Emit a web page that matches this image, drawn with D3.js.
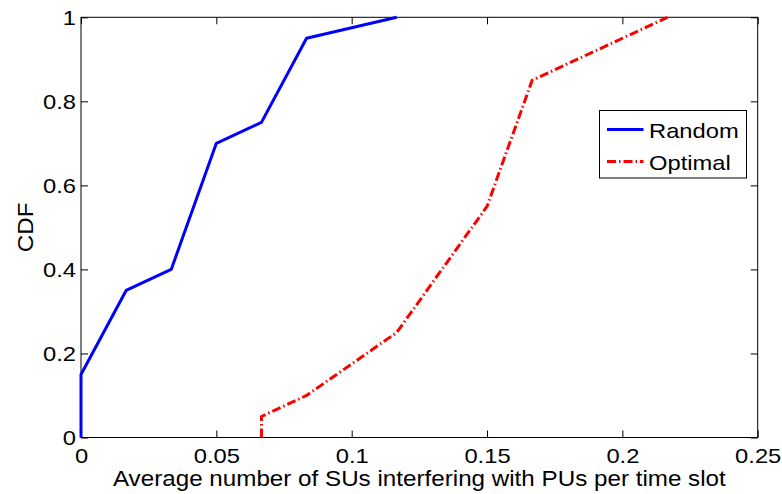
<!DOCTYPE html>
<html>
<head>
<meta charset="utf-8">
<script src="https://cdn.jsdelivr.net/npm/d3@7"></script>
<style>
  html, body { margin: 0; padding: 0; background: #fff; }
  svg { display: block; font-family: "Liberation Sans", Arial, sans-serif; }
</style>
</head>
<body>
<svg id="chart" width="782" height="494"></svg>
<script>
// Empirical CDF of the average number of interfering SUs per time slot
const randomX   = [0, 0, 1/60, 2/60, 3/60, 4/60, 5/60, 7/60];
const randomY   = [0, 0.15, 0.35, 0.40, 0.70, 0.75, 0.95, 1.00];
const optimalX  = [4/60, 4/60, 5/60, 7/60, 9/60, 10/60, 13/60];
const optimalY  = [0, 0.05, 0.10, 0.25, 0.55, 0.85, 1.00];
const xTicks = [0, 0.05, 0.1, 0.15, 0.2, 0.25];
const yTicks = [0, 0.2, 0.4, 0.6, 0.8, 1];
const seriesNames = ["Random", "Optimal"];

const svg = d3.select("#chart");
const margin = { left: 81, top: 17.3, right: 782 - 757.7, bottom: 494 - 437.5 };
const W = 782 - margin.left - margin.right;
const H = 494 - margin.top - margin.bottom;

const x = d3.scaleLinear().domain([0, 0.25]).range([0, W]);
const y = d3.scaleLinear().domain([0, 1]).range([H, 0]);

const g = svg.append("g").attr("transform", `translate(${margin.left},${margin.top})`);

const fmt = d => d === 0 ? "0" : d3.format("~g")(d);
const tickLen = 7;
const fontSize = 21;
const widen = 1.13;   // glyphs are drawn slightly wider than the font's natural width

// stretch a text selection horizontally
function stretch(sel, factor = widen) {
  sel.each(function () {
    const n = this.getComputedTextLength();
    if (n > 0) d3.select(this).attr("textLength", n * factor).attr("lengthAdjust", "spacingAndGlyphs");
  });
}

function styleAxis(sel, showLabels) {
  sel.selectAll(".domain").remove();
  sel.selectAll(".tick line").attr("stroke", "#000").attr("stroke-width", 1);
  const t = sel.selectAll(".tick text")
    .attr("fill", "#000")
    .style("font-size", fontSize + "px");
  if (showLabels) t.call(stretch); else t.remove();
}

// bottom / top axes with inward ticks
g.append("g").attr("transform", `translate(0,${H})`)
  .call(d3.axisBottom(x).tickValues(xTicks).tickFormat(fmt).tickSizeInner(-tickLen).tickSizeOuter(0).tickPadding(11))
  .call(s => styleAxis(s, true));
g.append("g")
  .call(d3.axisTop(x).tickValues(xTicks).tickSizeInner(-tickLen).tickSizeOuter(0))
  .call(s => styleAxis(s, false));

// left / right axes
g.append("g")
  .call(d3.axisLeft(y).tickValues(yTicks).tickFormat(fmt).tickSizeInner(-tickLen).tickSizeOuter(0).tickPadding(5))
  .call(s => styleAxis(s, true));
g.append("g").attr("transform", `translate(${W},0)`)
  .call(d3.axisRight(y).tickValues(yTicks).tickSizeInner(-tickLen).tickSizeOuter(0))
  .call(s => styleAxis(s, false));

// frame
g.append("rect").attr("width", W).attr("height", H)
  .attr("fill", "none").attr("stroke", "#000").attr("stroke-width", 1);

const line = d3.line().x(d => x(d[0])).y(d => y(d[1]));

const dashDot = "9,3,1.5,3";
const series = [
  { name: seriesNames[0], pts: d3.zip(randomX, randomY), color: "#0000ff", dash: null },
  { name: seriesNames[1], pts: d3.zip(optimalX, optimalY), color: "#ff0000", dash: dashDot }
];

series.forEach(s => {
  g.append("path")
    .datum(s.pts)
    .attr("d", line)
    .attr("fill", "none")
    .attr("stroke", s.color)
    .attr("stroke-width", 3)
    .attr("stroke-linejoin", "round")
    .attr("stroke-dasharray", s.dash);
});

// axis titles
svg.append("text")
  .attr("x", margin.left + W / 2).attr("y", 485.5)
  .attr("text-anchor", "middle")
  .style("font-size", "22px")
  .text("Average number of SUs interfering with PUs per time slot")
  .call(stretch, 1.1);

svg.append("text")
  .attr("transform", `translate(33,${margin.top + H / 2}) rotate(-90)`)
  .attr("text-anchor", "middle")
  .style("font-size", "22px")
  .text("CDF")
  .call(stretch, 1.1);

// legend
const lg = svg.append("g");
lg.append("rect").attr("x", 599.5).attr("y", 110.5).attr("width", 147).attr("height", 67.5)
  .attr("fill", "#fff").attr("stroke", "#000").attr("stroke-width", 1);
series.forEach((s, i) => {
  const cy = 129.5 + i * 32;
  lg.append("line")
    .attr("x1", 607).attr("x2", 643.5).attr("y1", cy).attr("y2", cy)
    .attr("stroke", s.color).attr("stroke-width", 3)
    .attr("stroke-dasharray", s.dash);
  lg.append("text")
    .attr("x", 649).attr("y", cy + 8)
    .style("font-size", fontSize + "px")
    .text(s.name)
    .call(stretch);
});
</script>
</body>
</html>
